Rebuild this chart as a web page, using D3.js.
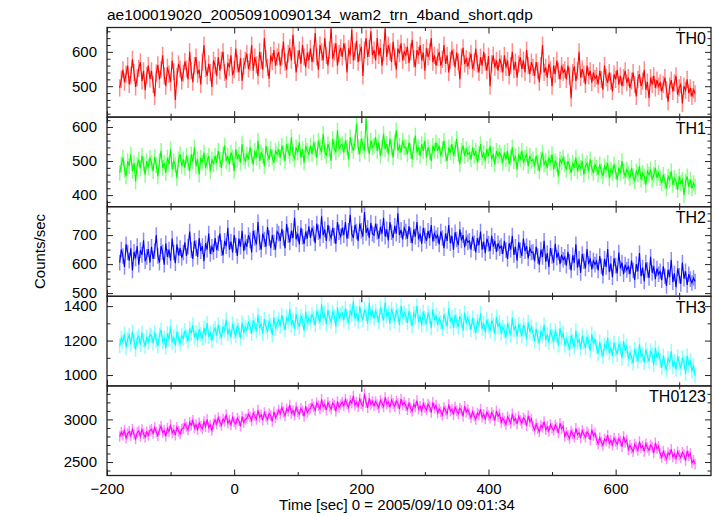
<!DOCTYPE html>
<html>
<head>
<meta charset="utf-8">
<script src="https://cdn.jsdelivr.net/npm/d3@7/dist/d3.min.js"></script>
<style>
  html, body { margin: 0; padding: 0; background: #fff; }
  svg { display: block; font-family: "Liberation Sans", Arial, Helvetica, sans-serif; }
</style>
</head>
<body>
<svg id="chart" width="717" height="516"></svg>
<script>
// ---------------- DATA ----------------
const titleText = "ae100019020_20050910090134_wam2_trn_4band_short.qdp";
const xLabelText = "Time [sec] 0 = 2005/09/10 09:01:34";
const yLabelText = "Counts/sec";

// bin centres: 2.5 s bins from -180 s to 725 s
const binStart = -180, binEnd = 725, binWidth = 2.5;

const bandNames = ["TH0", "TH1", "TH2", "TH3", "TH0123"];
const bandColors = ["#ff0000", "#00ff00", "#0000ff", "#00ffff", "#ff00ff"];
const bandErrors = [25, 23, 27, 42, 62];

const yDomains = [[410, 671], [366, 629], [489, 798], [937, 1457], [2342, 3393]];
const yMajorTicks = [[500, 600], [400, 500, 600], [500, 600, 700], [1000, 1200, 1400], [2500, 3000]];
const yMinorStep = [20, 20, 25, 100, 100];

const xMajorTicks = [-200, 0, 200, 400, 600];
const xMinorTicks = [-100, 100, 300, 500, 700];

const th0 = [
 495,520,548,512,535,560,505,530,578,540,498,525,552,570,515,545,488,532,560,521,
 545,505,470,538,562,520,548,590,530,500,555,535,512,575,542,460,528,565,550,515,
 538,572,550,520,600,545,512,560,585,535,548,505,570,620,552,530,565,540,498,575,
 560,530,585,545,575,600,540,520,568,555,590,532,548,610,565,540,582,515,558,575,
 595,550,570,620,545,585,562,530,600,575,548,640,580,555,522,590,572,605,560,585,
 600,560,585,630,570,548,595,612,575,650,590,540,580,605,565,620,585,555,598,575,
 610,570,595,655,585,548,620,600,575,640,590,560,605,668,580,600,625,560,595,612,
 585,625,600,540,610,590,665,575,600,632,570,598,615,530,605,640,585,610,660,590,
 605,575,640,590,612,560,598,668,585,620,600,570,630,585,548,610,595,625,575,600,
 590,615,568,600,635,580,555,605,590,620,575,598,545,612,585,600,640,570,590,560,
 585,600,560,578,620,565,590,540,575,605,585,555,598,570,520,585,612,565,580,558,
 575,595,550,570,610,565,540,585,560,600,570,545,588,500,565,590,555,575,545,580,
 565,540,590,555,575,530,560,600,548,570,525,565,585,550,575,540,605,560,535,570,
 555,530,570,545,512,560,620,540,555,525,565,548,500,560,535,575,545,520,560,540,
 548,520,560,530,465,540,558,515,545,600,525,550,535,505,560,530,545,510,540,522,
 530,505,545,520,490,560,525,510,540,515,485,535,520,548,505,530,500,525,545,510,
 525,495,515,540,505,470,520,535,500,515,548,490,512,465,525,505,530,495,518,500,
 510,485,505,525,490,455,500,518,485,510,530,475,495,505,450,500,488,520,480,495,
 470,490,478];

const th1 = [
 465,490,510,475,455,500,485,520,470,495,440,488,505,478,515,492,460,500,482,510,
 495,470,512,488,455,500,530,480,495,465,510,490,535,475,500,488,450,505,520,485,
 505,480,515,495,470,520,498,540,485,505,460,510,495,525,480,500,515,470,505,490,
 515,495,530,505,480,520,545,500,515,490,525,510,470,535,505,520,495,550,510,500,
 520,505,540,515,490,530,510,560,500,525,515,485,545,520,505,535,510,495,530,520,
 535,510,545,525,500,550,530,515,570,520,505,540,525,555,510,535,495,545,530,520,
 545,520,555,535,510,560,540,525,580,530,515,550,535,500,565,540,525,590,535,545,
 550,525,560,540,505,570,545,530,555,610,540,520,565,545,530,625,550,520,560,540,
 545,570,530,555,515,540,580,535,550,520,565,540,510,555,590,530,545,525,560,540,
 540,520,555,530,505,545,575,525,540,515,550,530,560,510,540,525,500,545,530,555,
 530,545,515,535,560,520,500,540,525,550,515,535,565,520,490,530,545,515,535,520,
 525,505,540,515,530,495,520,550,510,525,500,535,515,545,505,520,490,530,515,525,
 515,495,525,505,530,490,510,540,500,515,475,520,505,530,495,510,520,485,515,500,
 505,485,515,495,470,505,525,490,500,480,510,495,520,475,500,490,455,505,495,510,
 490,475,500,485,465,495,480,510,470,490,480,500,460,485,495,470,505,480,465,490,
 480,460,490,470,455,485,475,495,450,475,465,490,470,445,480,465,500,470,455,475,
 465,450,480,455,440,470,460,485,445,465,455,430,470,460,475,445,460,480,450,465,
 450,435,460,440,420,455,445,470,430,450,440,415,455,435,445,400,440,455,425,445,
 420,435,425];

const th2 = [
 605,650,628,590,668,640,612,655,578,642,620,662,598,648,632,682,610,625,652,605,
 660,618,645,700,628,605,662,641,598,672,625,650,612,688,640,603,668,630,655,622,
 640,675,628,660,712,648,618,680,655,625,690,645,662,610,672,650,705,635,660,642,
 690,648,672,705,655,630,680,662,725,650,678,640,700,665,628,688,660,715,645,675,
 660,700,682,640,715,690,668,745,675,650,705,685,660,728,690,655,700,675,650,712,
 705,680,722,690,655,738,700,675,715,690,760,685,705,668,725,695,670,712,688,730,
 690,725,705,672,740,710,688,765,700,720,680,735,705,690,725,698,670,745,710,695,
 725,700,745,688,715,770,705,690,735,712,680,740,715,695,780,708,725,690,742,705,
 700,740,712,688,728,705,760,695,720,682,745,710,690,732,705,775,700,718,685,725,
 712,688,730,700,672,720,695,745,685,705,670,725,698,680,715,690,735,678,705,690,
 700,668,712,690,655,705,680,735,672,698,650,710,685,665,720,682,700,658,690,675,
 680,650,695,672,640,690,665,712,650,678,638,688,670,645,698,660,680,642,672,655,
 662,635,680,648,618,672,650,698,632,660,612,675,648,628,688,645,662,620,655,640,
 642,610,660,628,598,650,625,680,608,638,590,655,628,605,670,622,640,600,632,615,
 625,595,642,608,578,630,605,668,588,618,570,635,610,585,652,600,620,582,612,598,
 610,578,628,592,560,618,590,652,572,602,555,620,595,568,640,585,605,565,598,580,
 592,565,612,578,545,600,575,638,558,588,540,605,580,552,625,570,592,548,585,565,
 575,545,592,558,525,580,555,615,538,568,520,585,560,532,605,550,575,528,565,548,
 535,552,540];

const th3 = [
 1170,1215,1192,1240,1160,1208,1232,1178,1252,1195,1148,1212,1228,1175,1245,1202,1165,1222,1188,1236,
 1228,1185,1248,1200,1168,1232,1262,1192,1215,1158,1242,1205,1282,1190,1222,1172,1252,1210,1182,1230,
 1212,1258,1225,1195,1270,1240,1292,1218,1248,1200,1265,1235,1210,1275,1228,1302,1222,1245,1198,1255,
 1272,1228,1292,1248,1215,1282,1255,1322,1235,1268,1220,1298,1252,1228,1288,1262,1212,1305,1245,1278,
 1262,1305,1280,1240,1318,1290,1255,1348,1272,1300,1238,1325,1282,1250,1312,1288,1232,1335,1270,1298,
 1322,1282,1348,1300,1262,1335,1310,1385,1288,1318,1268,1355,1305,1278,1342,1318,1258,1368,1300,1328,
 1310,1352,1328,1290,1372,1340,1305,1412,1330,1358,1295,1378,1332,1308,1365,1342,1282,1392,1325,1352,
 1362,1318,1388,1340,1302,1372,1350,1428,1325,1358,1310,1398,1345,1318,1382,1355,1298,1418,1340,1368,
 1328,1372,1345,1305,1392,1355,1318,1422,1340,1365,1298,1385,1348,1312,1378,1350,1290,1402,1335,1362,
 1345,1302,1372,1325,1285,1358,1335,1402,1310,1342,1288,1368,1330,1295,1362,1335,1272,1382,1320,1348,
 1292,1328,1305,1268,1352,1318,1282,1388,1310,1335,1272,1348,1312,1278,1342,1315,1258,1362,1300,1330,
 1302,1262,1332,1285,1245,1312,1290,1358,1268,1300,1248,1322,1285,1255,1318,1290,1238,1338,1278,1305,
 1242,1278,1255,1218,1302,1265,1230,1332,1260,1285,1222,1298,1262,1228,1292,1265,1208,1308,1250,1280,
 1240,1198,1268,1220,1185,1252,1230,1292,1205,1235,1188,1262,1225,1192,1258,1230,1172,1272,1215,1245,
 1172,1208,1185,1148,1232,1195,1160,1258,1190,1205,1152,1228,1190,1158,1222,1195,1138,1238,1180,1210,
 1165,1122,1192,1145,1108,1178,1155,1218,1128,1160,1112,1188,1150,1118,1182,1155,1098,1198,1140,1170,
 1092,1128,1105,1068,1152,1115,1080,1178,1110,1122,1072,1148,1110,1078,1142,1115,1058,1158,1100,1130,
 1085,1042,1112,1065,1028,1098,1075,1138,1048,1080,1032,1108,1070,1038,1102,1075,1008,1112,1055,1085,
 1022,1055,995];

const th0123 = [
 2800,2850,2815,2870,2780,2835,2860,2805,2885,2825,2770,2845,2865,2800,2880,2830,2790,2855,2815,2870,
 2885,2835,2905,2850,2810,2880,2920,2845,2870,2800,2895,2855,2940,2840,2875,2815,2910,2860,2830,2885,
 2895,2950,2910,2875,2965,2930,2990,2900,2940,2880,2960,2920,2890,2975,2915,3000,2905,2935,2870,2950,
 2995,2945,3020,2970,2930,3005,2975,3055,2955,2990,2935,3025,2970,2945,3015,2985,2920,3035,2965,3000,
 3010,3060,3030,2985,3075,3040,3000,3110,3025,3055,2990,3080,3035,3000,3070,3045,2975,3090,3020,3055,
 3110,3065,3140,3085,3040,3125,3095,3170,3070,3105,3050,3145,3090,3060,3130,3100,3035,3155,3080,3115,
 3130,3180,3145,3105,3195,3160,3120,3235,3150,3175,3110,3200,3155,3120,3190,3165,3095,3210,3140,3175,
 3205,3160,3235,3180,3140,3220,3190,3275,3165,3200,3150,3240,3185,3155,3300,3195,3135,3250,3175,3210,
 3160,3210,3175,3135,3225,3190,3150,3260,3180,3205,3140,3230,3185,3150,3215,3190,3120,3240,3170,3200,
 3160,3115,3190,3135,3095,3175,3145,3220,3120,3155,3100,3185,3140,3110,3180,3150,3080,3200,3130,3165,
 3075,3125,3090,3050,3140,3105,3065,3175,3095,3120,3055,3145,3100,3065,3130,3105,3035,3155,3085,3115,
 3065,3020,3090,3040,3000,3075,3050,3120,3025,3060,3005,3085,3045,3015,3080,3050,2985,3100,3035,3065,
 2965,3015,2980,2940,3030,2995,2955,3065,2985,3010,2945,3035,2990,2955,3020,2995,2925,3045,2975,3005,
 2920,2875,2945,2895,2855,2930,2905,2975,2880,2915,2860,2940,2900,2870,2935,2905,2840,2955,2890,2920,
 2800,2850,2815,2775,2865,2830,2790,2895,2820,2845,2780,2870,2825,2790,2855,2830,2760,2880,2810,2840,
 2760,2715,2785,2735,2695,2770,2745,2815,2720,2755,2700,2780,2740,2710,2775,2745,2680,2800,2730,2760,
 2645,2695,2660,2620,2710,2675,2635,2740,2665,2690,2625,2715,2670,2635,2700,2675,2605,2725,2655,2685,
 2600,2555,2625,2575,2535,2610,2585,2650,2560,2595,2540,2620,2580,2550,2615,2585,2515,2630,2570,2600,
 2490,2520,2475];

const bandValues = [th0, th1, th2, th3, th0123];

// ---------------- LAYOUT ----------------
const svg = d3.select("#chart");
const plotLeft = 107, plotRight = 711;
const plotTop = 27.5, plotBottom = 475.5;
const nPanels = bandNames.length;
const panelH = (plotBottom - plotTop) / nPanels;

const times = d3.range(binStart, binEnd + binWidth / 2, binWidth);
const x = d3.scaleLinear().domain([-200, 750]).range([plotLeft, plotRight]);

const defs = svg.append("defs");
const majorLen = 6, minorLen = 3.5;

function styleAxis(g) {
  g.select(".domain").remove();
  g.selectAll(".tick line").attr("stroke", "#222").attr("stroke-width", 1);
  g.selectAll(".tick text").attr("fill", "#000");
}

bandNames.forEach((name, i) => {
  const top = plotTop + i * panelH;
  const bot = top + panelH;
  const y = d3.scaleLinear().domain(yDomains[i]).range([bot, top]);
  const minorVals = d3.range(Math.ceil(yDomains[i][0] / yMinorStep[i]) * yMinorStep[i], yDomains[i][1], yMinorStep[i])
    .filter(v => !yMajorTicks[i].includes(v));

  defs.append("clipPath").attr("id", "clip" + i)
    .append("rect").attr("x", plotLeft).attr("y", top).attr("width", plotRight - plotLeft).attr("height", panelH);

  const g = svg.append("g");
  const data = times.map((t, k) => ({ t, v: bandValues[i][k] })).filter(d => d.v !== undefined);
  const plot = g.append("g").attr("clip-path", `url(#clip${i})`);

  // error bars
  plot.append("g").selectAll("line").data(data).join("line")
    .attr("x1", d => x(d.t)).attr("x2", d => x(d.t))
    .attr("y1", d => y(d.v - bandErrors[i])).attr("y2", d => y(d.v + bandErrors[i]))
    .attr("stroke", bandColors[i]).attr("stroke-opacity", 0.45).attr("stroke-width", 1.5);

  // data line
  plot.append("path").datum(data)
    .attr("fill", "none").attr("stroke", bandColors[i]).attr("stroke-width", 1.1)
    .attr("d", d3.line().x(d => x(d.t)).y(d => y(d.v)));

  // Y axes
  const yl = g.append("g").attr("transform", `translate(${plotLeft},0)`)
    .call(d3.axisLeft(y).tickValues(yMajorTicks[i]).tickSizeInner(-majorLen).tickSizeOuter(0).tickPadding(10).tickFormat(d3.format("d")));
  styleAxis(yl);
  yl.selectAll(".tick text").attr("font-size", 15);
  styleAxis(g.append("g").attr("transform", `translate(${plotLeft},0)`)
    .call(d3.axisLeft(y).tickValues(minorVals).tickSizeInner(-minorLen).tickSizeOuter(0).tickFormat("")));
  styleAxis(g.append("g").attr("transform", `translate(${plotRight},0)`)
    .call(d3.axisRight(y).tickValues(yMajorTicks[i]).tickSizeInner(-majorLen).tickSizeOuter(0).tickFormat("")));
  styleAxis(g.append("g").attr("transform", `translate(${plotRight},0)`)
    .call(d3.axisRight(y).tickValues(minorVals).tickSizeInner(-minorLen).tickSizeOuter(0).tickFormat("")));

  // X ticks top & bottom of each panel
  styleAxis(g.append("g").attr("transform", `translate(0,${top})`)
    .call(d3.axisTop(x).tickValues(xMajorTicks).tickSizeInner(-majorLen).tickSizeOuter(0).tickFormat("")));
  styleAxis(g.append("g").attr("transform", `translate(0,${top})`)
    .call(d3.axisTop(x).tickValues(xMinorTicks).tickSizeInner(-minorLen).tickSizeOuter(0).tickFormat("")));
  const xb = g.append("g").attr("transform", `translate(0,${bot})`)
    .call(d3.axisBottom(x).tickValues(xMajorTicks).tickSizeInner(-majorLen).tickSizeOuter(0).tickPadding(8)
      .tickFormat(i === nPanels - 1 ? (d => d < 0 ? "\u2212" + Math.abs(d) : String(d)) : ""));
  styleAxis(xb);
  xb.selectAll(".tick text").attr("font-size", 15);
  styleAxis(g.append("g").attr("transform", `translate(0,${bot})`)
    .call(d3.axisBottom(x).tickValues(xMinorTicks).tickSizeInner(-minorLen).tickSizeOuter(0).tickFormat("")));

  // panel frame
  g.append("rect").attr("x", plotLeft).attr("y", top).attr("width", plotRight - plotLeft).attr("height", panelH)
    .attr("fill", "none").attr("stroke", "#222").attr("stroke-width", 1.3);

  // band label
  g.append("text").attr("x", plotRight - 5).attr("y", top + 16.5).attr("text-anchor", "end")
    .attr("font-size", 16).attr("fill", "#000").text(name);
});

// titles
svg.append("text").attr("x", plotLeft).attr("y", 19.5).attr("font-size", 15.5).attr("fill", "#000").text(titleText);
svg.append("text").attr("x", 397).attr("y", 510).attr("text-anchor", "middle").attr("font-size", 15).attr("fill", "#000").text(xLabelText);
svg.append("text").attr("transform", `translate(45,${(plotTop + plotBottom) / 2}) rotate(-90)`).attr("text-anchor", "middle")
  .attr("font-size", 15).attr("fill", "#000").text(yLabelText);
</script>
</body>
</html>
